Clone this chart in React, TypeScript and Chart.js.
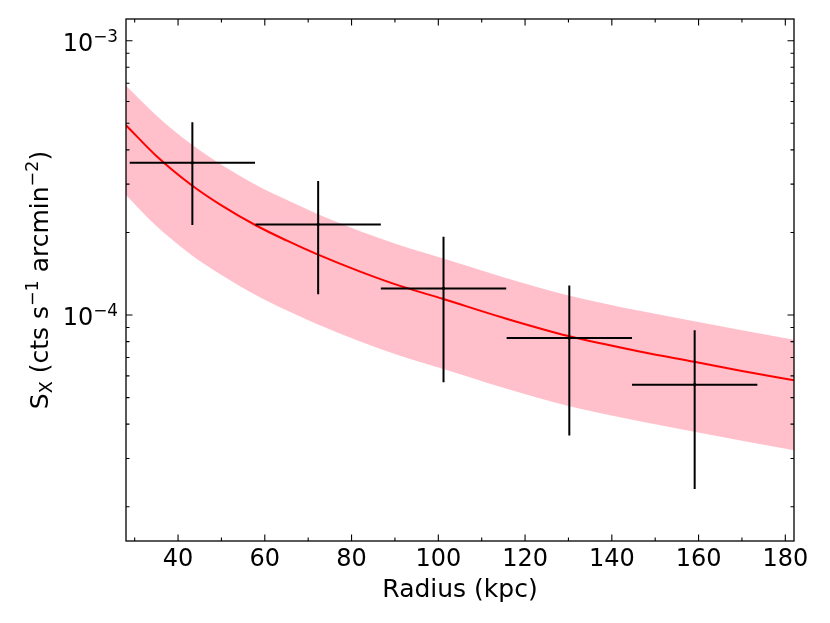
import React, { useEffect, useRef } from 'react';
import { Chart, registerables } from 'chart.js';

Chart.register(...registerables);

// model curve and its confidence band
const modelRadius = [28, 35, 43, 50, 58, 65, 72, 82, 91, 101, 115, 130, 147, 159, 170, 182];
const modelSx = [4.92e-4, 3.8e-4, 2.985e-4, 2.51e-4, 2.12e-4, 1.87e-4, 1.667e-4, 1.44e-4, 1.28e-4, 1.146e-4, 9.77e-5, 8.38e-5, 7.33e-5, 6.75e-5, 6.25e-5, 5.78e-5];
const bandUpper = [6.85e-4, 5.34e-4, 4.2e-4, 3.53e-4, 2.98e-4, 2.63e-4, 2.34e-4, 2.02e-4, 1.8e-4, 1.61e-4, 1.374e-4, 1.178e-4, 1.031e-4, 9.49e-5, 8.79e-5, 8.13e-5];
const bandLower = [2.74e-4, 2.11e-4, 1.66e-4, 1.4e-4, 1.18e-4, 1.04e-4, 9.27e-5, 8.01e-5, 7.12e-5, 6.37e-5, 5.43e-5, 4.66e-5, 4.08e-5, 3.75e-5, 3.48e-5, 3.21e-5];

// measured profile (bins)
const binCenter = [43.3, 72.3, 101.2, 130.2, 159.1];
const binHalfWidth = [14.45, 14.45, 14.45, 14.45, 14.45];
const sxValue = [3.59e-4, 2.14e-4, 1.25e-4, 8.24e-5, 5.57e-5];
const sxHigh = [5.04e-4, 3.08e-4, 1.93e-4, 1.28e-4, 8.8e-5];
const sxLow = [2.13e-4, 1.19e-4, 5.69e-5, 3.64e-5, 2.32e-5];

// axes
const xMajorTicks = [40, 60, 80, 100, 120, 140, 160, 180];
const xMinorTicks = [30, 50, 70, 90, 110, 130, 150, 170];
const yMajorTicks = [1e-4, 1e-3];
const yMajorLabels = ['\u22124', '\u22123'];
const yMinorTicks = [2e-5, 3e-5, 4e-5, 5e-5, 6e-5, 7e-5, 8e-5, 9e-5, 2e-4, 3e-4, 4e-4, 5e-4, 6e-4, 7e-4, 8e-4, 9e-4];

const FONT = '"DejaVu Sans", sans-serif';

type Seg = { t: string; size: number; dy: number };

// text pieces (normal / sub / superscript) laid out left to right
const segWidth = (ctx: CanvasRenderingContext2D, segs: Seg[]) =>
  segs.reduce((w, s) => {
    ctx.font = `${s.size}px ${FONT}`;
    return w + ctx.measureText(s.t).width;
  }, 0);

const drawSegs = (ctx: CanvasRenderingContext2D, segs: Seg[], x: number, y: number) => {
  let cx = x;
  segs.forEach((s) => {
    ctx.font = `${s.size}px ${FONT}`;
    ctx.fillText(s.t, cx, y + s.dy);
    cx += ctx.measureText(s.t).width;
  });
};

const axesPlugin = {
  id: 'mplAxes',
  afterDatasetsDraw(chart: any) {
    const { ctx, chartArea: a } = chart;
    const xs = chart.scales.x;
    const ys = chart.scales.y;

    ctx.save();

    // error bars
    ctx.strokeStyle = '#000';
    ctx.fillStyle = '#000';
    ctx.lineWidth = 2;
    binCenter.forEach((c, i) => {
      const px = xs.getPixelForValue(c);
      const py = ys.getPixelForValue(sxValue[i]);
      ctx.beginPath();
      ctx.moveTo(xs.getPixelForValue(c - binHalfWidth[i]), py);
      ctx.lineTo(xs.getPixelForValue(c + binHalfWidth[i]), py);
      ctx.moveTo(px, ys.getPixelForValue(sxHigh[i]));
      ctx.lineTo(px, ys.getPixelForValue(sxLow[i]));
      ctx.stroke();
      ctx.beginPath();
      ctx.arc(px, py, 1.6, 0, Math.PI * 2);
      ctx.fill();
    });

    // frame
    ctx.lineWidth = 1.3;
    ctx.strokeRect(a.left, a.top, a.right - a.left, a.bottom - a.top);

    // ticks, inward on all sides
    ctx.lineWidth = 1.1;
    ctx.beginPath();
    const xt = (v: number, len: number) => {
      const p = xs.getPixelForValue(v);
      ctx.moveTo(p, a.bottom);
      ctx.lineTo(p, a.bottom - len);
      ctx.moveTo(p, a.top);
      ctx.lineTo(p, a.top + len);
    };
    const yt = (v: number, len: number) => {
      const p = ys.getPixelForValue(v);
      ctx.moveTo(a.left, p);
      ctx.lineTo(a.left + len, p);
      ctx.moveTo(a.right, p);
      ctx.lineTo(a.right - len, p);
    };
    xMajorTicks.forEach((v) => xt(v, 6.5));
    xMinorTicks.forEach((v) => xt(v, 3.5));
    yMajorTicks.forEach((v) => yt(v, 6.5));
    yMinorTicks.forEach((v) => yt(v, 3.5));
    ctx.stroke();

    // x tick labels
    ctx.textBaseline = 'alphabetic';
    ctx.textAlign = 'center';
    ctx.font = `24px ${FONT}`;
    xMajorTicks.forEach((v) => {
      ctx.fillText(String(v), xs.getPixelForValue(v), 566);
    });

    // y tick labels 10^-n
    ctx.textAlign = 'left';
    yMajorTicks.forEach((v, i) => {
      const segs: Seg[] = [
        { t: '10', size: 24, dy: 0 },
        { t: yMajorLabels[i], size: 16.8, dy: -9.5 },
      ];
      const w = segWidth(ctx, segs);
      drawSegs(ctx, segs, 118 - w, ys.getPixelForValue(v) + 10.3);
    });

    // x title
    ctx.textAlign = 'center';
    ctx.font = `25px ${FONT}`;
    ctx.fillText('Radius (kpc)', (a.left + a.right) / 2, 597);

    // y title (rotated)
    const title: Seg[] = [
      { t: 'S', size: 25, dy: 0 },
      { t: 'X', size: 17.5, dy: 4 },
      { t: ' (cts s', size: 25, dy: 0 },
      { t: '\u22121', size: 17.5, dy: -10 },
      { t: ' arcmin', size: 25, dy: 0 },
      { t: '\u22122', size: 17.5, dy: -10 },
      { t: ')', size: 25, dy: 0 },
    ];
    ctx.textAlign = 'left';
    const tw = segWidth(ctx, title);
    ctx.translate(48, (a.top + a.bottom) / 2);
    ctx.rotate(-Math.PI / 2);
    drawSegs(ctx, title, -tw / 2, 0);

    ctx.restore();
  },
};

export default function App() {
  const canvasRef = useRef<HTMLCanvasElement>(null);

  useEffect(() => {
    const ctx = canvasRef.current?.getContext('2d');
    if (!ctx) return;

    const chart = new Chart(ctx, {
      type: 'line',
      data: {
        datasets: [
          {
            label: 'band upper',
            data: modelRadius.map((r, i) => ({ x: r, y: bandUpper[i] })),
            borderWidth: 0,
            borderColor: 'rgba(0,0,0,0)',
            backgroundColor: '#ffc0cb',
            pointRadius: 0,
            fill: '+1',
            order: 2,
            cubicInterpolationMode: 'monotone',
          },
          {
            label: 'band lower',
            data: modelRadius.map((r, i) => ({ x: r, y: bandLower[i] })),
            borderWidth: 0,
            borderColor: 'rgba(0,0,0,0)',
            pointRadius: 0,
            fill: false,
            order: 2,
            cubicInterpolationMode: 'monotone',
          },
          {
            label: 'model',
            data: modelRadius.map((r, i) => ({ x: r, y: modelSx[i] })),
            borderWidth: 2,
            borderColor: '#ff0000',
            pointRadius: 0,
            fill: false,
            order: 1,
            cubicInterpolationMode: 'monotone',
          },
        ],
      },
      options: {
        responsive: false,
        animation: false,
        events: [],
        layout: { padding: { left: 126, right: 36, top: 19, bottom: 82 } },
        plugins: {
          legend: { display: false },
          tooltip: { enabled: false },
        },
        scales: {
          x: { type: 'linear', min: 28, max: 182, display: false },
          y: { type: 'logarithmic', min: 1.5e-5, max: 1.2e-3, display: false },
        },
      },
      plugins: [axesPlugin],
    });

    return () => chart.destroy();
  }, []);

  return (
    <div style={{ position: 'absolute', left: 0, top: 0, width: 830, height: 623, background: '#fff' }}>
      <canvas ref={canvasRef} width={830} height={623} style={{ display: 'block' }} />
    </div>
  );
}
